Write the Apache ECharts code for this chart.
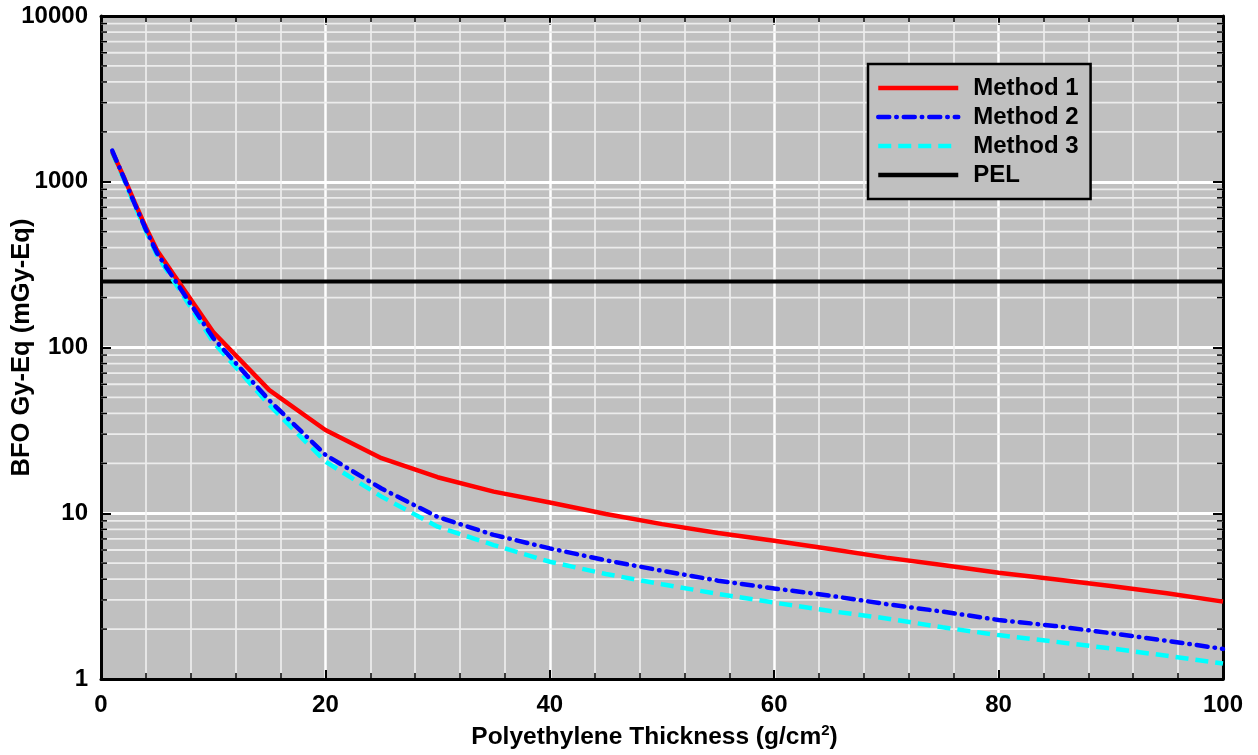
<!DOCTYPE html>
<html>
<head>
<meta charset="utf-8">
<script src="https://cdn.jsdelivr.net/npm/echarts@6/dist/echarts.min.js"></script>
<style>
  html, body { margin: 0; padding: 0; background: #ffffff; }
  #chart { width: 1258px; height: 755px; }
</style>
</head>
<body>
<div id="chart"></div>
<script>
// Polyethylene shielding thickness (g/cm^2)
const thickness = [1, 2, 3, 4, 5, 10, 15, 20, 25, 30, 35, 40, 45, 50, 55, 60, 65, 70, 75, 80, 85, 90, 95, 100];

// BFO dose equivalent (mGy-Eq) for each method
const method1 = [1520, 1080, 750, 530, 385, 124, 55.3, 31.8, 21.5, 16.5, 13.5, 11.6, 9.9, 8.6, 7.6, 6.83, 6.08, 5.4, 4.87, 4.38, 4.0, 3.64, 3.29, 2.93];
const method2 = [1540, 1070, 735, 515, 370, 114, 48, 22.5, 14.1, 9.5, 7.4, 6.14, 5.2, 4.5, 3.92, 3.52, 3.18, 2.83, 2.55, 2.27, 2.09, 1.89, 1.70, 1.52];
const method3 = [1500, 1050, 720, 505, 360, 108, 45, 20.5, 12.6, 8.3, 6.43, 5.1, 4.3, 3.73, 3.26, 2.89, 2.57, 2.32, 2.05, 1.84, 1.68, 1.53, 1.38, 1.24];

// Permissible exposure limit (mGy-Eq)
const pelLevel = 250;

// Axis tick labels
const xTicks = [0, 20, 40, 60, 80, 100];
const yTicks = [1, 10, 100, 1000, 10000];
// Intermediate log-decade lines (2..9 within each decade)
const yMinor = [2, 3, 4, 5, 6, 7, 8, 9, 20, 30, 40, 50, 60, 70, 80, 90, 200, 300, 400, 500, 600, 700, 800, 900, 2000, 3000, 4000, 5000, 6000, 7000, 8000, 9000];

const FONT = "'Liberation Sans', Arial, Helvetica, sans-serif";

const pairs = (xs, ys) => xs.map((x, i) => [x, ys[i]]);

const chart = echarts.init(document.getElementById('chart'), null, { renderer: 'canvas' });

const tickLabelStyle = { fontFamily: FONT, fontWeight: 'bold', fontSize: 24, color: '#000' };

const option = {
  backgroundColor: '#ffffff',
  animation: false,
  grid: {
    left: 101, top: 16, right: 35, bottom: 76,
    outerBoundsMode: 'none',
    containLabel: false,
    show: true, backgroundColor: '#c0c0c0', borderWidth: 0
  },
  legend: {
    orient: 'vertical',
    left: 868, top: 64,
    padding: [12, 12, 12, 8],
    itemWidth: 80, itemHeight: 20, itemGap: 5,
    backgroundColor: '#c0c0c0',
    borderColor: '#000', borderWidth: 2.5,
    itemStyle: { opacity: 0 },
    lineStyle: { width: 4.5 },
    textStyle: { fontFamily: FONT, fontWeight: 'bold', fontSize: 24, color: '#000', padding: [0, 0, 0, 10] },
    data: ['Method 1', 'Method 2', 'Method 3', 'PEL']
  },
  xAxis: [
    {
      type: 'value', min: 0, max: 100, interval: 20,
      name: '{t|Polyethylene Thickness (g/cm}{s|2}{t|)}',
      nameLocation: 'middle', nameGap: 44,
      nameTextStyle: {
        padding: [0, 15, 0, 0],
        rich: {
          t: { fontFamily: FONT, fontWeight: 'bold', fontSize: 24.5, color: '#000', lineHeight: 28 },
          s: { fontFamily: FONT, fontWeight: 'bold', fontSize: 15, color: '#000', lineHeight: 28, verticalAlign: 'top' }
        }
      },
      axisLine: { show: true, onZero: false, lineStyle: { color: '#000', width: 3 } },
      axisTick: { show: true, inside: true, length: 9, lineStyle: { color: '#000', width: 2 } },
      minorTick: { show: true, splitNumber: 5, length: 6, lineStyle: { color: '#000', width: 1.5 } },
      axisLabel: Object.assign({ margin: 14, formatter: v => (xTicks.includes(v) ? String(v) : '') }, tickLabelStyle),
      splitLine: { show: true, lineStyle: { color: '#ffffff', width: 2.5 } },
      minorSplitLine: { show: true, lineStyle: { color: '#f2f2f2', width: 1.5 } }
    },
    {
      type: 'value', min: 0, max: 100, interval: 20, position: 'top',
      axisLine: { show: true, onZero: false, lineStyle: { color: '#000', width: 3 } },
      axisTick: { show: true, inside: true, length: 9, lineStyle: { color: '#000', width: 2 } },
      minorTick: { show: true, splitNumber: 5, length: 6, lineStyle: { color: '#000', width: 1.5 } },
      axisLabel: { show: false },
      splitLine: { show: false }
    }
  ],
  yAxis: [
    {
      type: 'log', logBase: 10, min: 1, max: 10000,
      name: 'BFO Gy-Eq (mGy-Eq)',
      nameLocation: 'middle', nameGap: 66, nameRotate: 90,
      nameMoveOverlap: false,
      nameTextStyle: { fontFamily: FONT, fontWeight: 'bold', fontSize: 25.5, color: '#000' },
      axisLine: { show: true, onZero: false, lineStyle: { color: '#000', width: 3 } },
      axisTick: { show: true, inside: true, length: 10, lineStyle: { color: '#000', width: 2 } },
      axisLabel: Object.assign({ margin: 13, formatter: v => (yTicks.includes(Math.round(v)) ? String(Math.round(v)) : '') }, tickLabelStyle),
      splitLine: { show: true, lineStyle: { color: '#ffffff', width: 3 } }
    },
    {
      type: 'log', logBase: 10, min: 1, max: 10000, position: 'right',
      axisLine: { show: true, onZero: false, lineStyle: { color: '#000', width: 3 } },
      axisTick: { show: true, inside: true, length: 10, lineStyle: { color: '#000', width: 2 } },
      axisLabel: { show: false },
      splitLine: { show: false }
    }
  ],
  series: [
    {
      // minor log grid lines with inward ticks on both vertical axes
      name: 'minor',
      type: 'custom',
      xAxisIndex: 0, yAxisIndex: 0,
      silent: true, z: 1,
      data: yMinor.map(v => [0, v]),
      renderItem: function (params, api) {
        const cs = params.coordSys;
        const y = api.coord([0, api.value(1)])[1];
        const x0 = cs.x, x1 = cs.x + cs.width;
        return {
          type: 'group',
          children: [
            { type: 'line', shape: { x1: x0, y1: y, x2: x1, y2: y }, style: { stroke: '#ececec', lineWidth: 1.8 } },
            { type: 'line', shape: { x1: x0, y1: y, x2: x0 + 6, y2: y }, style: { stroke: '#000', lineWidth: 1.5 } },
            { type: 'line', shape: { x1: x1 - 6, y1: y, x2: x1, y2: y }, style: { stroke: '#000', lineWidth: 1.5 } }
          ]
        };
      }
    },
    {
      name: 'PEL', type: 'line', z: 3,
      data: [[0, pelLevel], [100, pelLevel]],
      symbol: 'none',
      lineStyle: { color: '#000', width: 4 },
      itemStyle: { color: '#000' }
    },
    {
      name: 'Method 3', type: 'line', z: 4,
      data: pairs(thickness, method3),
      symbol: 'none',
      lineStyle: { color: '#00ffff', width: 4.5, type: [13, 7], cap: 'butt' },
      itemStyle: { color: '#00ffff' }
    },
    {
      name: 'Method 2', type: 'line', z: 5,
      data: pairs(thickness, method2),
      symbol: 'none',
      lineStyle: { color: '#0000ff', width: 4.5, type: [11, 7, 0.5, 7], cap: 'round' },
      itemStyle: { color: '#0000ff' }
    },
    {
      name: 'Method 1', type: 'line', z: 4,
      data: pairs(thickness, method1),
      symbol: 'none',
      lineStyle: { color: '#ff0000', width: 4.5 },
      itemStyle: { color: '#ff0000' }
    }
  ]
};

chart.setOption(option);
</script>
</body>
</html>
